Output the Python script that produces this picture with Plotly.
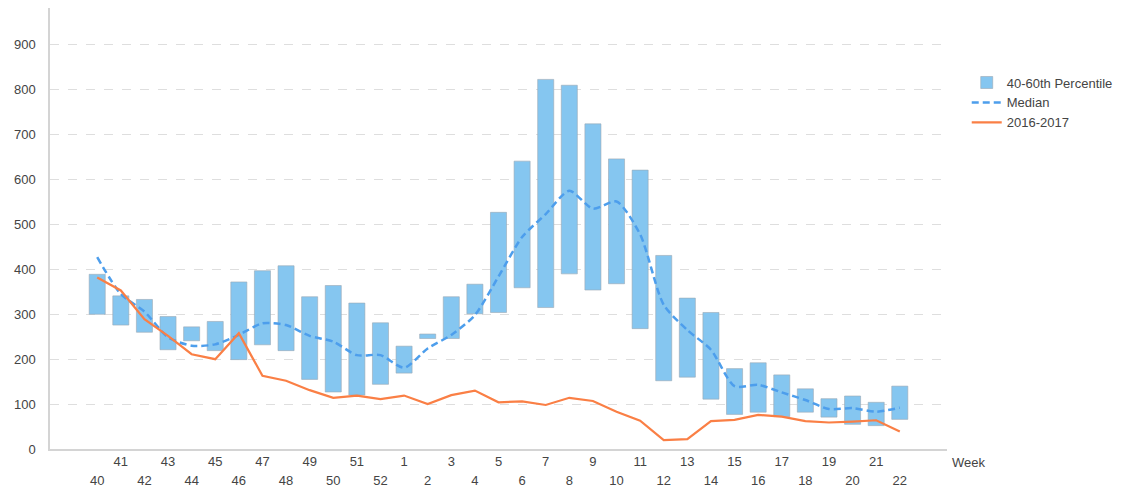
import plotly.graph_objects as go

weeks = [40, 41, 42, 43, 44, 45, 46, 47, 48, 49, 50, 51, 52,
         1, 2, 3, 4, 5, 6, 7, 8, 9, 10, 11, 12, 13, 14, 15, 16, 17, 18, 19, 20, 21, 22]

p40 = [300, 276, 260, 221, 241, 219, 199, 232, 219, 155, 127, 120, 144,
       169, 246, 246, 301, 304, 359, 315, 390, 354, 368, 268, 152, 160, 111,
       77, 82, 72, 82, 71, 55, 52, 66]
p60 = [389, 341, 333, 295, 272, 284, 372, 397, 408, 339, 364, 325, 281,
       229, 256, 339, 367, 527, 641, 823, 810, 724, 646, 621, 431, 336, 304,
       179, 192, 165, 134, 112, 118, 104, 140]
median = [427, 345, 306, 249, 230, 233, 254, 280, 276, 252, 239, 209, 209,
          181, 224, 254, 298, 384, 472, 523, 575, 535, 551, 478, 321, 265, 221,
          140, 143, 126, 109, 89, 91, 83, 92]
season = [382, 353, 289, 252, 211, 200, 258, 163, 152, 131, 114, 119, 111,
          119, 100, 120, 130, 104, 106, 98, 114, 107, 83, 63, 20, 22, 62,
          65, 76, 72, 62, 59, 61, 64, 39]

x = list(range(len(weeks)))
heights = [t - b for t, b in zip(p60, p40)]
odd_idx = [i for i in x if i % 2 == 1]
even_idx = [i for i in x if i % 2 == 0]

FONT = "Liberation Sans, Arial, sans-serif"

fig = go.Figure()
fig.add_trace(go.Bar(
    x=x, y=heights, base=p40, name="40-60th Percentile",
    width=0.68,
    marker=dict(color="#85C6F0", line=dict(color="#9aa8b4", width=0.6)),
    hoverinfo="skip",
))
fig.add_trace(go.Scatter(
    x=x, y=median, name="Median", mode="lines",
    line=dict(color="#4D9EEC", width=2.5, dash="7px,4px", shape="spline", smoothing=0.7),
))
fig.add_trace(go.Scatter(
    x=x, y=season, name="2016-2017", mode="lines",
    line=dict(color="#FA7F45", width=2.2),
))
# helper trace so the second (even-label) axis is drawn
fig.add_trace(go.Scatter(
    x=x, y=[None] * len(x), xaxis="x2", showlegend=False, hoverinfo="skip",
    mode="lines",
))

fig.update_layout(
    width=1127, height=481,
    margin=dict(l=42, r=188, t=0, b=40, autoexpand=False),
    paper_bgcolor="white", plot_bgcolor="white",
    font=dict(family=FONT, size=13, color="#444"),
    barmode="overlay",
    showlegend=True,
    legend=dict(x=1.022, y=0.865, xanchor="left", yanchor="top",
                font=dict(size=13, color="#444"), tracegroupgap=2,
                bgcolor="rgba(0,0,0,0)"),
    xaxis=dict(
        range=[-2, 36], tickmode="array", tickvals=odd_idx,
        ticktext=[str(weeks[i]) for i in odd_idx],
        showgrid=False, zeroline=False, showline=True, automargin=False,
        linecolor="#d4d4d4", linewidth=1.5, ticks="",
        tickfont=dict(size=13, color="#444"), ticklabelstandoff=0,
    ),
    xaxis2=dict(
        overlaying="x", matches="x", side="bottom", range=[-2, 36],
        tickmode="array", tickvals=even_idx, automargin=False,
        ticktext=[str(weeks[i]) for i in even_idx],
        showgrid=False, zeroline=False, showline=False, ticks="",
        tickfont=dict(size=13, color="#444"), ticklabelstandoff=22,
    ),
    yaxis=dict(
        range=[0, 982], tickmode="array", tickvals=list(range(0, 1000, 100)),
        showgrid=True, gridcolor="#dedede", griddash="dash", gridwidth=1,
        zeroline=False, showline=True, linecolor="#d4d4d4", linewidth=1.5,
        automargin=False,
        ticks="", tickfont=dict(size=13, color="#444"), ticklabelstandoff=10,
    ),
    annotations=[dict(
        text="Week", xref="paper", yref="paper", x=1.003, y=-0.03,
        xanchor="left", yanchor="middle", showarrow=False,
        font=dict(size=13, color="#444"),
    )],
)

fig.write_html("out.html")
